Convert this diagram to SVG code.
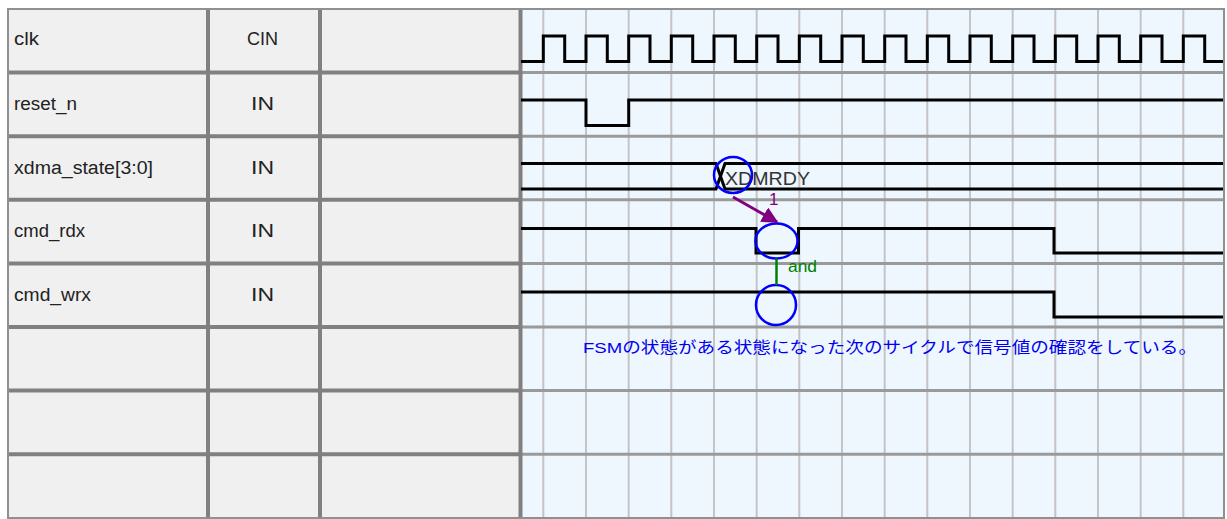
<svg xmlns="http://www.w3.org/2000/svg" width="1227" height="519" viewBox="0 0 1227 519">
<style>
.lbl{font-family:"Liberation Sans",Arial,sans-serif;font-size:18px;fill:#222}
.ctr{text-anchor:middle}
.sep{stroke:#808080;stroke-width:4}
.roww{stroke:#9a9a9a;stroke-width:3}
.grid{stroke:#c4c4c4;stroke-width:2}
.wave{fill:none;stroke:#000;stroke-width:3;stroke-linejoin:miter}
.mark{fill:none;stroke:#0000ff;stroke-width:2.5}
</style>
<defs>
<marker id="ah" viewBox="0 0 10 10" refX="9" refY="5" markerWidth="5.5" markerHeight="5.5" orient="auto" markerUnits="strokeWidth">
<path d="M0,0 L10,5 L0,10 z" fill="#800080"/>
</marker>
</defs>
<rect width="1227" height="519" fill="#ffffff"/>
<g id="table">
<rect x="8" y="9" width="513" height="509" fill="#f0f0f0"/>
<rect x="521" y="9" width="703" height="509" fill="#eef6fe"/>
<g class="grid">
<line x1="543.3" y1="9" x2="543.3" y2="518"/>
<line x1="586" y1="9" x2="586" y2="518"/>
<line x1="628.7" y1="9" x2="628.7" y2="518"/>
<line x1="671.3" y1="9" x2="671.3" y2="518"/>
<line x1="714" y1="9" x2="714" y2="518"/>
<line x1="756.7" y1="9" x2="756.7" y2="518"/>
<line x1="799.3" y1="9" x2="799.3" y2="518"/>
<line x1="842" y1="9" x2="842" y2="518"/>
<line x1="884.7" y1="9" x2="884.7" y2="518"/>
<line x1="927.3" y1="9" x2="927.3" y2="518"/>
<line x1="970" y1="9" x2="970" y2="518"/>
<line x1="1012.7" y1="9" x2="1012.7" y2="518"/>
<line x1="1055.3" y1="9" x2="1055.3" y2="518"/>
<line x1="1098" y1="9" x2="1098" y2="518"/>
<line x1="1140.7" y1="9" x2="1140.7" y2="518"/>
<line x1="1183.3" y1="9" x2="1183.3" y2="518"/>
</g>
<g class="roww">
<line x1="521" y1="72.6" x2="1224" y2="72.6"/>
<line x1="521" y1="136.2" x2="1224" y2="136.2"/>
<line x1="521" y1="199.8" x2="1224" y2="199.8"/>
<line x1="521" y1="263.4" x2="1224" y2="263.4"/>
<line x1="521" y1="327" x2="1224" y2="327"/>
<line x1="521" y1="390.6" x2="1224" y2="390.6"/>
<line x1="521" y1="454.2" x2="1224" y2="454.2"/>
</g>
<g class="sep">
<line x1="8" y1="72.6" x2="521" y2="72.6"/>
<line x1="8" y1="136.2" x2="521" y2="136.2"/>
<line x1="8" y1="199.8" x2="521" y2="199.8"/>
<line x1="8" y1="263.4" x2="521" y2="263.4"/>
<line x1="8" y1="327" x2="521" y2="327"/>
<line x1="8" y1="390.6" x2="521" y2="390.6"/>
<line x1="8" y1="454.2" x2="521" y2="454.2"/>
<line x1="208" y1="9" x2="208" y2="518"/>
<line x1="320" y1="9" x2="320" y2="518"/>
<line x1="520.5" y1="9" x2="520.5" y2="518"/>
</g>
<rect x="8" y="9" width="1216" height="509" fill="none" stroke="#909090" stroke-width="2"/>
</g>
<g id="sig-clk">
<text class="lbl" x="14" y="45" textLength="25" lengthAdjust="spacingAndGlyphs">clk</text>
<text class="lbl ctr" x="262.5" y="45" textLength="31" lengthAdjust="spacingAndGlyphs">CIN</text>
<path class="wave" d="M521,61.5 H543.3 V36 H564.7 V61.5 H586 V36 H607.3 V61.5 H628.7 V36 H650 V61.5 H671.3 V36 H692.7 V61.5 H714 V36 H735.3 V61.5 H756.7 V36 H778 V61.5 H799.3 V36 H820.7 V61.5 H842 V36 H863.3 V61.5 H884.7 V36 H906 V61.5 H927.3 V36 H948.7 V61.5 H970 V36 H991.3 V61.5 H1012.7 V36 H1034 V61.5 H1055.3 V36 H1076.7 V61.5 H1098 V36 H1119.3 V61.5 H1140.7 V36 H1162 V61.5 H1183.3 V36 H1204.7 V61.5 H1223"/>
</g>
<g id="sig-reset_n">
<text class="lbl" x="14" y="109.5" textLength="63" lengthAdjust="spacingAndGlyphs">reset_n</text>
<text class="lbl ctr" x="262.5" y="109.5" textLength="23" lengthAdjust="spacingAndGlyphs">IN</text>
<path class="wave" d="M521,100 H586 V125.5 H628.7 V100 H1223"/>
</g>
<g id="sig-xdma_state">
<text class="lbl" x="14" y="173.5" textLength="139" lengthAdjust="spacingAndGlyphs">xdma_state[3:0]</text>
<text class="lbl ctr" x="262.5" y="173.5" textLength="23" lengthAdjust="spacingAndGlyphs">IN</text>
<path class="wave" d="M521,163.5 H716 L725,189 H1223"/>
<path class="wave" d="M521,189 H716 L725,163.5 H1223"/>
<text x="725" y="185" font-family="Liberation Sans,Arial,sans-serif" font-size="19" fill="#333" textLength="85" lengthAdjust="spacingAndGlyphs">XDMRDY</text>
<ellipse id="m1" class="mark" cx="733" cy="175" rx="19" ry="18"/>
</g>
<g id="sig-cmd_rdx">
<text class="lbl" x="14" y="237" textLength="71" lengthAdjust="spacingAndGlyphs">cmd_rdx</text>
<text class="lbl ctr" x="262.5" y="237" textLength="23" lengthAdjust="spacingAndGlyphs">IN</text>
<path class="wave" d="M521,228.5 H756 V253 H798.5 V228.5 H1054 V253 H1223"/>
<ellipse id="m2" class="mark" cx="776.5" cy="241" rx="21" ry="17.5"/>
</g>
<g id="sig-cmd_wrx">
<text class="lbl" x="14" y="301" textLength="77" lengthAdjust="spacingAndGlyphs">cmd_wrx</text>
<text class="lbl ctr" x="262.5" y="301" textLength="23" lengthAdjust="spacingAndGlyphs">IN</text>
<path class="wave" d="M521,292 H1054 V317 H1223"/>
<ellipse id="m3" class="mark" cx="776" cy="305" rx="20" ry="20"/>
</g>
<g id="connectors">
<line x1="733" y1="197" x2="777" y2="222" stroke="#800080" stroke-width="3" marker-end="url(#ah)"/>
<text x="769" y="205" font-family="Liberation Sans,Arial,sans-serif" font-size="17" fill="#800080">1</text>
<line x1="776.5" y1="258.5" x2="776.5" y2="285" stroke="#008000" stroke-width="2.5"/>
<text x="788" y="272" font-family="Liberation Sans,Arial,sans-serif" font-size="16" fill="#008000" textLength="29" lengthAdjust="spacingAndGlyphs">and</text>
</g>
<g id="note">
<text x="583" y="353" font-family="Liberation Sans,'Noto Sans CJK JP',sans-serif" font-size="15.5" fill="#0000ee" textLength="614" lengthAdjust="spacingAndGlyphs">FSMの状態がある状態になった次のサイクルで信号値の確認をしている。</text>
</g>
</svg>
